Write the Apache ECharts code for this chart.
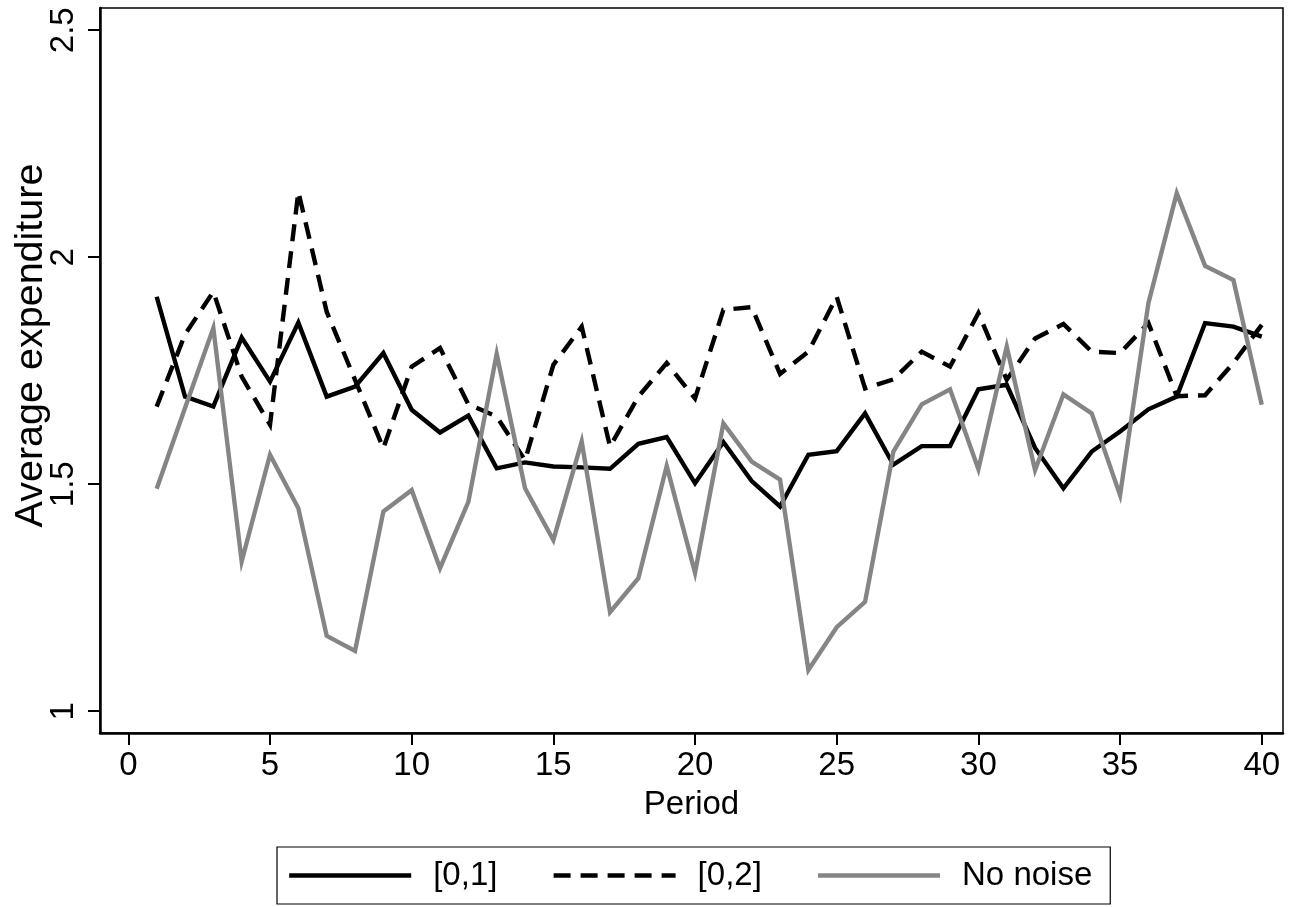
<!DOCTYPE html>
<html>
<head>
<meta charset="utf-8">
<script src="https://cdn.jsdelivr.net/npm/echarts@6/dist/echarts.min.js"></script>
<style>
html,body{margin:0;padding:0;background:#fff;}
#chart{width:1296px;height:907px;}
</style>
</head>
<body>
<div id="chart"></div>
<script>
const periods = [1,2,3,4,5,6,7,8,9,10,11,12,13,14,15,16,17,18,19,20,21,22,23,24,25,26,27,28,29,30,31,32,33,34,35,36,37,38,39,40];
const noise01 = [1.913,1.693,1.671,1.823,1.726,1.856,1.693,1.715,1.789,1.664,1.614,1.651,1.535,1.548,1.539,1.537,1.534,1.589,1.604,1.502,1.593,1.507,1.451,1.565,1.573,1.656,1.543,1.584,1.584,1.709,1.719,1.580,1.491,1.572,1.616,1.665,1.693,1.855,1.847,1.825];
const noise02 = [1.671,1.830,1.924,1.737,1.631,2.144,1.880,1.730,1.579,1.759,1.800,1.676,1.649,1.553,1.763,1.847,1.583,1.693,1.767,1.689,1.884,1.890,1.743,1.792,1.913,1.711,1.731,1.792,1.759,1.877,1.730,1.821,1.853,1.792,1.789,1.855,1.694,1.696,1.767,1.851];
const noNoise = [1.490,1.668,1.844,1.330,1.565,1.447,1.166,1.133,1.440,1.487,1.315,1.461,1.787,1.491,1.377,1.594,1.218,1.293,1.540,1.305,1.634,1.550,1.510,1.091,1.185,1.241,1.572,1.676,1.709,1.533,1.803,1.531,1.698,1.656,1.476,1.899,2.141,1.981,1.950,1.675];
const seriesNames = ['[0,1]', '[0,2]', 'No noise'];
const xTicks = [0,5,10,15,20,25,30,35,40];
const yTicks = [1,1.5,2,2.5];
const xTitle = 'Period';
const yTitle = 'Average expenditure';

const FONT = "'Liberation Sans', Arial, sans-serif";
const pairs = vals => periods.map((p, i) => [p, vals[i]]);
const LW = 4.4;

const chart = echarts.init(document.getElementById('chart'), null, {renderer: 'canvas'});
chart.setOption({
  animation: false,
  backgroundColor: '#fff',
  textStyle: {fontFamily: FONT, color: '#000'},
  grid: {left: 100, right: 13, top: 8, bottom: 174, show: true, borderColor: '#000', borderWidth: 1.5,
         containLabel: false, outerBoundsMode: 'none'},
  xAxis: {
    type: 'value', min: -1, max: 40.75,
    name: xTitle, nameLocation: 'middle', nameGap: 55, nameMoveOverlap: false,
    nameTextStyle: {fontSize: 33, color: '#000', fontFamily: FONT},
    axisLine: {show: true, onZero: false, lineStyle: {color: '#000', width: 2.5}},
    axisTick: {show: true, length: 12, lineStyle: {color: '#000', width: 2}, customValues: xTicks},
    axisLabel: {customValues: xTicks, fontSize: 33, margin: 16, color: '#000', fontFamily: FONT},
    splitLine: {show: false}
  },
  yAxis: {
    type: 'value', min: 0.952, max: 2.549,
    name: yTitle, nameLocation: 'middle', nameGap: 49, nameMoveOverlap: false,
    nameTextStyle: {fontSize: 39.5, color: '#000', fontFamily: FONT, padding: [0, 0, 0, 50]},
    axisLine: {show: true, onZero: false, lineStyle: {color: '#000', width: 2.5}},
    axisTick: {show: true, length: 12, lineStyle: {color: '#000', width: 2}, customValues: yTicks},
    axisLabel: {customValues: yTicks, rotate: 90, fontSize: 33, margin: 20, color: '#000', fontFamily: FONT},
    splitLine: {show: false}
  },
  legend: {
    left: 277, top: 847, orient: 'horizontal',
    padding: [12, 18, 12, 10],
    itemWidth: 122, itemHeight: 20, itemGap: 54,
    borderColor: '#000', borderWidth: 1.2,
    itemStyle: {opacity: 0},
    lineStyle: {width: LW},
    textStyle: {fontSize: 33, color: '#000', fontFamily: FONT, padding: [0, 0, 0, 17]},
    data: seriesNames
  },
  series: [
    {name: seriesNames[0], type: 'line', data: pairs(noise01), symbol: 'none',
     lineStyle: {color: '#000', width: LW, cap: 'butt', join: 'miter'}, itemStyle: {color: '#000'}},
    {name: seriesNames[1], type: 'line', data: pairs(noise02), symbol: 'none',
     lineStyle: {color: '#000', width: LW, type: [17, 10], cap: 'butt', join: 'miter'}, itemStyle: {color: '#000'}},
    {name: seriesNames[2], type: 'line', data: pairs(noNoise), symbol: 'none',
     lineStyle: {color: '#858585', width: LW, cap: 'butt', join: 'miter'}, itemStyle: {color: '#858585'}}
  ]
});
</script>
</body>
</html>
